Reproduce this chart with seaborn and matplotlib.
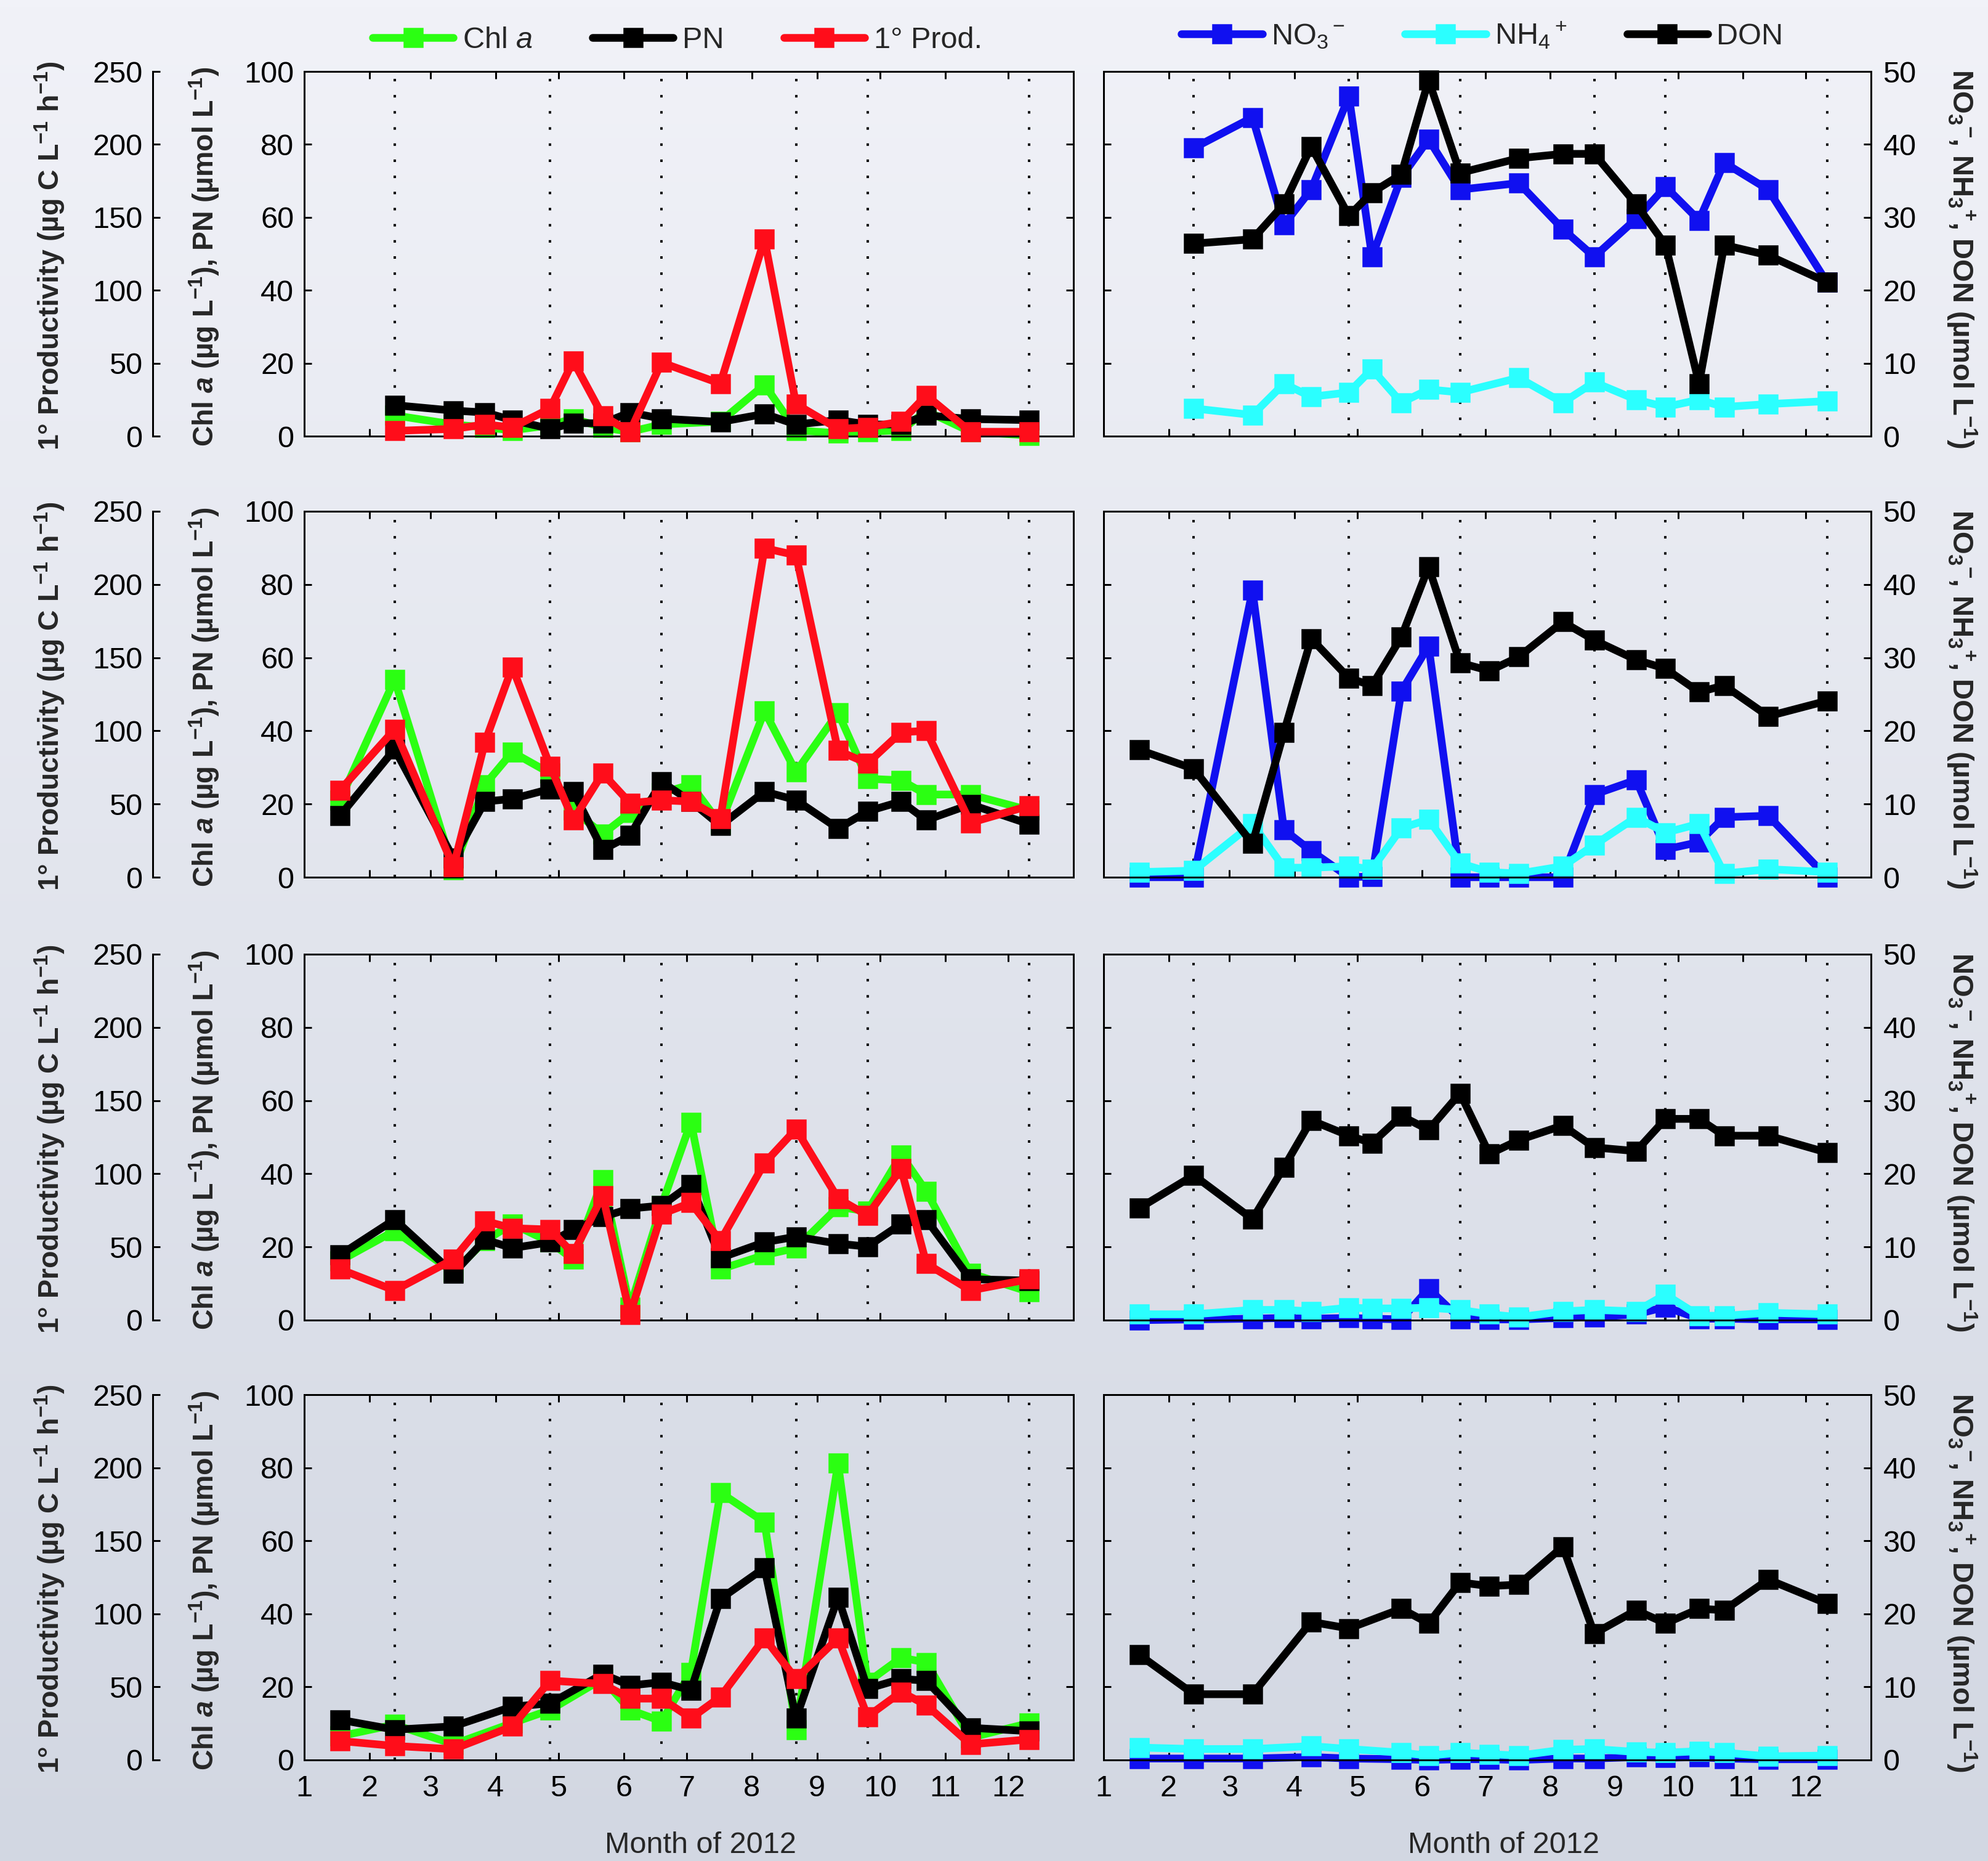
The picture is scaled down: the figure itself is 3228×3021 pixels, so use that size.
import numpy as np
import pandas as pd
import matplotlib
matplotlib.use("Agg")
import matplotlib.pyplot as plt
from matplotlib.colors import LinearSegmentedColormap
import seaborn as sns

# ---------------- data (day of year 2012) ----------------
dates_p1 = [44, 72, 87, 100, 118, 129, 143, 156, 171, 199, 220, 235, 255, 269, 285, 297, 318, 346]
dates_all = [18, 44, 72, 87, 100, 118, 129, 143, 156, 171, 185, 199, 220, 235, 255, 269, 285, 297, 318, 346]
dates_p4 = [18, 44, 72, 100, 118, 143, 156, 171, 185, 199, 220, 235, 255, 269, 285, 297, 318, 346]
dotted_dates = [44, 118, 171, 235, 269, 346]
month_starts = [1, 32, 61, 92, 122, 153, 183, 214, 245, 275, 306, 336]
month_labels = ["1", "2", "3", "4", "5", "6", "7", "8", "9", "10", "11", "12"]

# Panel 1
chl1 = [5.7, 3.2, 2.4, 1.6, 3.0, 4.8, 2.4, 1.2, 3.2, 4.0, 14.1, 1.6, 0.8, 1.2, 1.6, 6.9, 1.2, 0.2]
pn1 = [8.5, 7.0, 6.5, 4.4, 2.0, 3.6, 3.5, 6.5, 4.8, 3.9, 6.1, 3.2, 4.4, 3.2, 3.2, 5.7, 4.7, 4.4]
prod1 = [3.6, 5.0, 8.0, 6.0, 19.0, 51.5, 14.0, 3.0, 50.5, 36.0, 135.0, 22.0, 5.0, 6.0, 10.0, 28.0, 3.0, 3.0]
no3_1 = [39.5, 43.7, 29.0, 33.8, 46.6, 24.6, 35.5, 40.7, 33.8, 34.7, 28.4, 24.6, 29.8, 34.2, 29.6, 37.5, 33.8, 21.1]
nh4_1 = [3.8, 2.9, 7.2, 5.4, 6.0, 9.2, 4.6, 6.4, 6.0, 8.0, 4.6, 7.4, 5.0, 4.0, 5.0, 4.0, 4.4, 4.8]
don_1 = [26.4, 27.0, 31.8, 39.7, 30.2, 33.4, 35.9, 48.8, 36.1, 38.1, 38.7, 38.7, 31.8, 26.2, 7.2, 26.2, 24.8, 21.1]

# Panel 2
chl2 = [21.0, 54.0, 2.0, 25.3, 34.2, 28.4, 18.3, 11.8, 17.6, 23.0, 25.3, 14.5, 45.4, 28.8, 45.0, 26.9, 26.5, 22.6, 22.6, 18.3]
pn2 = [16.8, 35.0, 5.2, 20.7, 21.4, 24.1, 23.4, 7.5, 11.4, 26.1, 20.7, 14.1, 23.4, 21.1, 13.3, 18.0, 20.7, 15.6, 19.9, 14.5]
prod2 = [59.4, 101.0, 7.2, 92.3, 143.6, 75.9, 39.1, 71.0, 50.7, 52.6, 51.7, 40.1, 224.8, 220.0, 86.5, 77.8, 99.1, 100.0, 37.2, 48.8]
no3_2 = [0.0, 0.0, 39.2, 6.5, 3.6, 0.0, 0.1, 25.4, 31.6, 0.0, 0.0, 0.0, 0.0, 11.3, 13.3, 3.8, 4.8, 8.2, 8.4, 0.0]
nh4_2 = [0.7, 0.9, 7.3, 1.3, 1.3, 1.5, 1.1, 6.7, 7.9, 1.9, 0.7, 0.5, 1.5, 4.4, 8.2, 6.1, 7.3, 0.5, 1.1, 0.7]
don_2 = [17.4, 14.8, 4.6, 19.8, 32.6, 27.2, 26.2, 32.8, 42.4, 29.3, 28.2, 30.1, 34.9, 32.4, 29.7, 28.5, 25.3, 26.2, 22.0, 24.1]

# Panel 3
chl3 = [16.2, 24.4, 13.1, 21.7, 26.3, 21.3, 16.6, 38.3, 3.5, 31.3, 54.1, 13.9, 17.8, 19.7, 30.9, 29.8, 45.2, 35.2, 12.8, 7.7]
pn3 = [17.8, 27.5, 12.8, 22.0, 19.7, 21.3, 24.7, 28.2, 30.5, 31.3, 37.1, 17.0, 21.3, 22.8, 20.9, 20.1, 26.3, 27.5, 11.2, 10.8]
prod3 = [34.8, 20.3, 41.6, 67.7, 62.8, 61.9, 45.4, 85.1, 3.9, 72.5, 80.2, 54.1, 107.3, 130.5, 83.1, 71.5, 103.4, 38.7, 20.3, 28.0]
no3_3 = [0.0, 0.1, 0.2, 0.3, 0.2, 0.3, 0.2, 0.1, 4.3, 0.2, 0.1, 0.1, 0.3, 0.4, 0.8, 1.8, 0.2, 0.2, 0.1, 0.1]
nh4_3 = [0.8, 0.8, 1.4, 1.4, 1.2, 1.7, 1.6, 1.6, 1.7, 1.4, 0.8, 0.4, 1.2, 1.4, 1.2, 3.5, 0.6, 0.6, 1.0, 0.8]
don_3 = [15.3, 19.8, 13.8, 20.9, 27.3, 25.2, 24.2, 27.9, 26.0, 31.0, 22.7, 24.6, 26.6, 23.6, 23.1, 27.5, 27.5, 25.2, 25.2, 22.9]

# Panel 4
chl4 = [6.5, 9.7, 4.3, 10.1, 13.7, 22.2, 13.7, 10.6, 24.0, 73.2, 65.1, 8.3, 81.2, 21.3, 28.0, 26.7, 6.1, 10.1]
pn4 = [11.0, 8.3, 9.2, 14.6, 15.5, 23.5, 20.4, 21.3, 19.1, 44.1, 52.6, 11.4, 44.5, 19.5, 22.2, 21.7, 8.8, 7.9]
prod4 = [13.0, 9.6, 7.4, 23.0, 54.3, 52.1, 42.0, 42.0, 28.6, 43.2, 83.4, 55.5, 83.4, 29.7, 46.5, 37.6, 10.7, 14.1]
no3_4 = [0.2, 0.2, 0.2, 0.4, 0.2, 0.1, 0.0, 0.1, 0.1, 0.0, 0.2, 0.2, 0.4, 0.3, 0.4, 0.2, 0.1, 0.1]
nh4_4 = [1.7, 1.5, 1.5, 1.9, 1.5, 1.0, 0.6, 1.0, 0.8, 0.6, 1.4, 1.5, 1.1, 1.0, 1.2, 1.0, 0.5, 0.6]
don_4 = [14.4, 9.0, 9.0, 18.9, 18.0, 20.7, 18.7, 24.3, 23.8, 24.0, 29.2, 17.3, 20.5, 18.7, 20.7, 20.5, 24.7, 21.4]

panels = [
    dict(dates=dates_p1, chl=chl1, pn=pn1, prod=prod1, no3=no3_1, nh4=nh4_1, don=don_1),
    dict(dates=dates_all, chl=chl2, pn=pn2, prod=prod2, no3=no3_2, nh4=nh4_2, don=don_2),
    dict(dates=dates_all, chl=chl3, pn=pn3, prod=prod3, no3=no3_3, nh4=nh4_3, don=don_3),
    dict(dates=dates_p4, chl=chl4, pn=pn4, prod=prod4, no3=no3_4, nh4=nh4_4, don=don_4),
]

# ---------------- style ----------------
sns.set_theme(style="white")
plt.rcParams['font.family'] = ['Liberation Sans', 'DejaVu Sans']
plt.rcParams['mathtext.fontset'] = 'custom'
plt.rcParams['mathtext.rm'] = 'Liberation Sans'
plt.rcParams['mathtext.it'] = 'Liberation Sans:italic'
plt.rcParams['mathtext.bf'] = 'Liberation Sans:bold'
plt.rcParams['mathtext.bfit'] = 'Liberation Sans:italic:bold'
plt.rcParams['mathtext.sf'] = 'Liberation Sans'

GREEN = '#2BFF12'
BLACK = '#000000'
RED = '#FF0D1A'
BLUE = '#1010F0'
CYAN = '#2BFFFF'

W, H = 3228, 3021
DPI = 100
PT = 72.0 / DPI  # points per pixel

LW = 12.5 * PT
MS = 22.0
MEW = 1.8
SPW = 3.0 * PT
TICKL = 12 * PT
FS = 35
LFS = 33.5

fig = plt.figure(figsize=(W / DPI, H / DPI), dpi=DPI)
fig.patch.set_facecolor('#E2E5EE')

# background gradient
bg = fig.add_axes([0, 0, 1, 1], zorder=-10)
grad = np.linspace(0, 1, 256).reshape(-1, 1)
cmap = LinearSegmentedColormap.from_list('bg', ['#F1F2F8', '#D2D7E2'])
bg.imshow(grad, aspect='auto', cmap=cmap, extent=[0, 1, 0, 1], origin='upper')
bg.set_axis_off()

tops = [116, 830, 1549, 2264]
bots = [708, 1424, 2143, 2857]


def series(ax, x, y, color):
    df = pd.DataFrame({'doy': x, 'val': y})
    sns.lineplot(data=df, x='doy', y='val', ax=ax, color=color, marker='s',
                 markersize=MS, markeredgecolor=color, markeredgewidth=MEW,
                 linewidth=LW, clip_on=False, legend=False, estimator=None)
    ax.set(xlabel='', ylabel='')
    return ax.lines[-1]


def style_frame(ax):
    for sp in ax.spines.values():
        sp.set_linewidth(SPW)
        sp.set_color('black')
    ax.set_facecolor('none')


handles_left = None
handles_right = None

for r, p in enumerate(panels):
    top, bot = tops[r], bots[r]
    axL = fig.add_axes([494 / W, 1 - bot / H, 1249 / W, (bot - top) / H])
    axR = fig.add_axes([1792 / W, 1 - bot / H, 1246 / W, (bot - top) / H])
    is_bottom = (r == 3)

    # ---------- left panel ----------
    style_frame(axL)
    for d in dotted_dates:
        axL.axvline(d, color='black', lw=2.9, linestyle=(0, (1, 5.5)), zorder=0.5)
    hg = series(axL, p['dates'], p['chl'], GREEN)
    hb = series(axL, p['dates'], p['pn'], BLACK)
    ax2 = axL.twinx()
    hr = series(ax2, p['dates'], p['prod'], RED)
    axL.set_xlim(1, 367)
    axL.set_ylim(0, 100)
    ax2.set_ylim(0, 250)
    axL.set_xticks(month_starts)
    axL.set_xticklabels(month_labels if is_bottom else [])
    axL.set_yticks([0, 20, 40, 60, 80, 100])
    axL.tick_params(axis='both', direction='in', length=TICKL, width=SPW,
                    top=True, bottom=True, left=True, right=True,
                    labelleft=True, labelright=False, labelsize=FS, colors='black')
    axL.tick_params(axis='x', pad=17)
    axL.tick_params(axis='y', pad=12)

    ax2.set_yticks([0, 50, 100, 150, 200, 250])
    ax2.yaxis.set_ticks_position('left')
    ax2.spines['left'].set_position(('outward', 246 * PT))
    ax2.spines['left'].set_visible(True)
    ax2.spines['left'].set_linewidth(SPW)
    ax2.spines['left'].set_color('black')
    for s in ['right', 'top', 'bottom']:
        ax2.spines[s].set_visible(False)
    ax2.tick_params(axis='y', direction='in', length=TICKL, width=SPW,
                    left=True, right=False, labelleft=True, labelright=False,
                    labelsize=FS, pad=12, colors='black')
    ax2.set_facecolor('none')

    # ---------- right panel ----------
    style_frame(axR)
    for d in dotted_dates:
        axR.axvline(d, color='black', lw=2.9, linestyle=(0, (1, 5.5)), zorder=0.5)
    hbl = series(axR, p['dates'], p['no3'], BLUE)
    hcy = series(axR, p['dates'], p['nh4'], CYAN)
    hdn = series(axR, p['dates'], p['don'], BLACK)
    axR.set_xlim(1, 367)
    axR.set_ylim(0, 50)
    axR.set_xticks(month_starts)
    axR.set_xticklabels(month_labels if is_bottom else [])
    axR.set_yticks([0, 10, 20, 30, 40, 50])
    axR.tick_params(axis='both', direction='in', length=TICKL, width=SPW,
                    top=True, bottom=True, left=True, right=True,
                    labelleft=False, labelright=True, labelsize=FS, colors='black')
    axR.tick_params(axis='x', pad=17)
    axR.tick_params(axis='y', pad=14)

    if r == 0:
        handles_left = [hg, hb, hr]
        handles_right = [hbl, hcy, hdn]

    # axis labels
    yc = (top + bot) / 2.0
    fig.text(81 / W, 1 - (yc + 3) / H, r"1° Productivity (µg C L$^{\mathbf{-1}}$ h$^{\mathbf{-1}}$)",
             rotation=90, ha='center', va='center', fontsize=LFS, fontweight='bold')
    fig.text(332 / W, 1 - (yc + 5) / H,
             r"Chl $\mathbfit{a}$ (µg L$^{\mathbf{-1}}$), PN (µmol L$^{\mathbf{-1}}$)",
             rotation=90, ha='center', va='center', fontsize=LFS, fontweight='bold')
    fig.text(3185 / W, 1 - (yc + 8) / H,
             r"NO$_{\mathbf{3}}$$^{\mathbf{-}}$, NH$_{\mathbf{3}}$$^{\mathbf{+}}$, DON (µmol L$^{\mathbf{-1}}$)",
             rotation=-90, ha='center', va='center', fontsize=34, fontweight='bold')

fig.text(1138 / W, 1 - 2995 / H, "Month of 2012", ha='center', va='center', fontsize=FS)
fig.text(2441 / W, 1 - 2995 / H, "Month of 2012", ha='center', va='center', fontsize=FS)

fig.legend(handles_left, ["Chl $a$", "PN", "1° Prod."], loc='center',
           bbox_to_anchor=(1100 / W, 1 - 66 / H), ncol=3, frameon=False,
           fontsize=FS, handlelength=2.7, handletextpad=0.3, columnspacing=2.0,
           numpoints=1)
fig.legend(handles_right, ["NO$_3$$^-$", "NH$_4$$^+$", "DON"], loc='center',
           bbox_to_anchor=(2407 / W, 1 - 57 / H), ncol=3, frameon=False,
           fontsize=FS, handlelength=2.7, handletextpad=0.3, columnspacing=2.0,
           numpoints=1)

fig.savefig('out.png', dpi=DPI)
